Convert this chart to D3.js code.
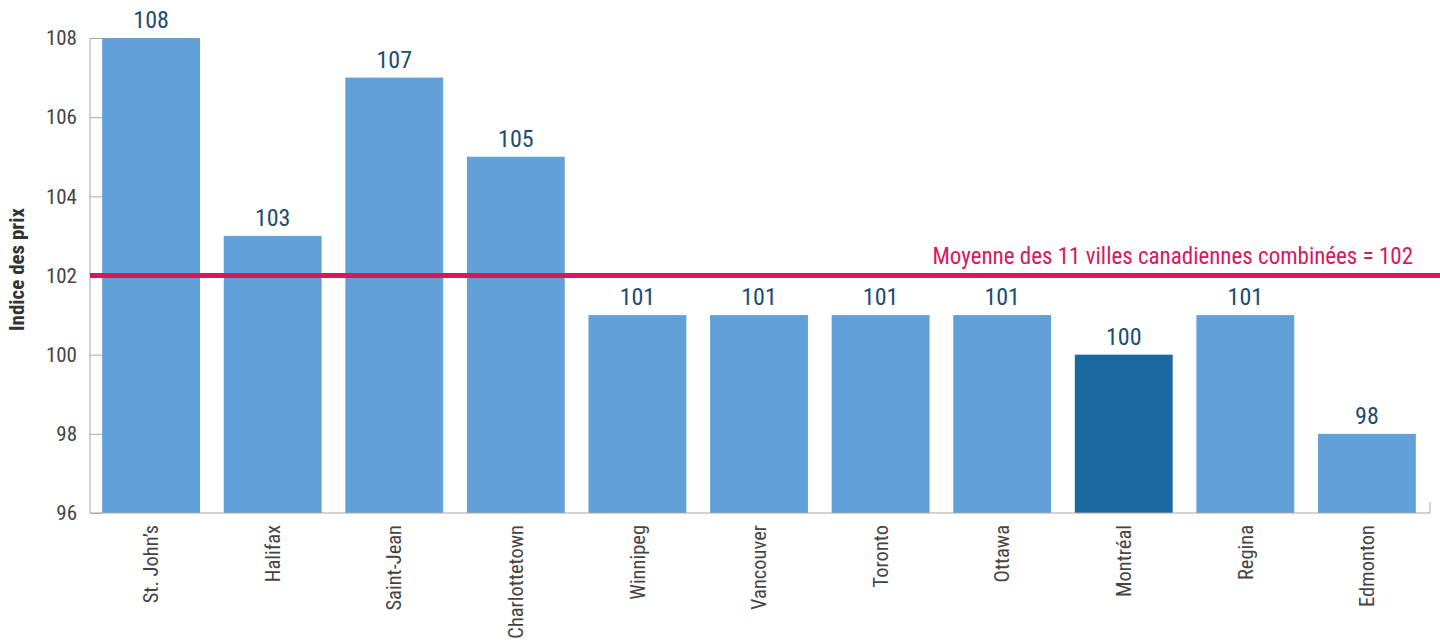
<!DOCTYPE html>
<html>
<head>
<meta charset="utf-8">
<script src="https://cdn.jsdelivr.net/npm/d3@7"></script>
<style>
  body { margin: 0; background: #fff; }
  svg text { font-family: "Roboto Condensed", "Liberation Sans Narrow", "Roboto", sans-serif; }
  .axis path, .axis line { stroke: #a6a6a6; }
</style>
</head>
<body>
<svg id="chart" width="1440" height="642"></svg>
<script>
// data
var cities = ["St. John’s", "Halifax", "Saint-Jean", "Charlottetown", "Winnipeg", "Vancouver", "Toronto", "Ottawa", "Montréal", "Regina", "Edmonton"];
var indexValues = [108, 103, 107, 105, 101, 101, 101, 101, 100, 101, 98];
var yTicks = [96, 98, 100, 102, 104, 106, 108];
var average = 102;
var averageLabel = "Moyenne des 11 villes canadiennes combinées = 102";
var highlight = "Montréal";

var margin = {top: 38, right: 12, bottom: 129, left: 90};
var width = 1440 - margin.left - margin.right;
var height = 642 - margin.top - margin.bottom;

var svg = d3.select("#chart")
  .append("g")
    .attr("transform", "translate(" + margin.left + "," + margin.top + ")");

var x = d3.scaleBand()
    .domain(cities)
    .range([0, width])
    .paddingInner(0.195)
    .paddingOuter(0.1);

var y = d3.scaleLinear()
    .domain([96, 108])
    .range([height, 0]);

var data = cities.map(function(c, i) { return {city: c, value: indexValues[i]}; });

// bars
svg.selectAll(".bar")
    .data(data)
  .enter().append("rect")
    .attr("class", "bar")
    .attr("x", function(d) { return x(d.city); })
    .attr("width", x.bandwidth())
    .attr("y", function(d) { return y(d.value); })
    .attr("height", function(d) { return height - y(d.value); })
    .attr("fill", function(d) { return d.city === highlight ? "#1a68a0" : "#62a1d7"; });

// value labels
svg.selectAll(".val")
    .data(data)
  .enter().append("text")
    .attr("class", "val")
    .attr("x", function(d) { return x(d.city) + x.bandwidth() / 2; })
    .attr("y", function(d) { return y(d.value) - 10; })
    .attr("text-anchor", "middle")
    .attr("fill", "#1b4c72")
    .style("font-size", "24px")
    .text(function(d) { return d.value; });

// y axis
var yAxis = svg.append("g")
    .attr("class", "axis")
    .call(d3.axisLeft(y).tickValues(yTicks).tickSize(-12).tickSizeOuter(0).tickPadding(13));
yAxis.selectAll("text").attr("fill", "#444").style("font-size", "21px");
yAxis.select(".domain").attr("d", "M0," + height + "V0");

// x axis
var xAxis = svg.append("g")
    .attr("class", "axis")
    .attr("transform", "translate(0," + height + ")")
    .call(d3.axisBottom(x).tickSize(0).tickSizeOuter(0));
xAxis.select(".domain").attr("d", "M0,0H" + (width + 2) + "V-11");
xAxis.selectAll("text")
    .attr("fill", "#444")
    .style("font-size", "20.5px")
    .attr("text-anchor", "end")
    .attr("dy", "0.35em")
    .attr("transform", "translate(0,12)rotate(-90)")
    .attr("x", 0)
    .attr("y", 0);

// average line
svg.append("line")
    .attr("x1", 0)
    .attr("x2", width + margin.right)
    .attr("y1", y(average))
    .attr("y2", y(average))
    .attr("stroke", "#d6185f")
    .attr("stroke-width", 5);

svg.append("text")
    .attr("x", width - 15)
    .attr("y", y(average) - 12)
    .attr("text-anchor", "end")
    .attr("fill", "#d6185f")
    .style("font-size", "23px")
    .text(averageLabel);

// y title
svg.append("text")
    .attr("transform", "translate(" + (-66) + "," + (height / 2 - 6) + ")rotate(-90)")
    .attr("text-anchor", "middle")
    .attr("fill", "#333")
    .style("font-size", "21px")
    .style("font-weight", "bold")
    .text("Indice des prix");
</script>
</body>
</html>
